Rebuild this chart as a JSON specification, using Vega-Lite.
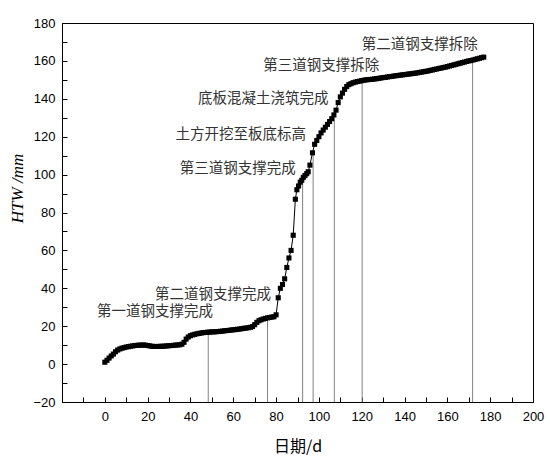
{
  "$schema": "https://vega.github.io/schema/vega-lite/v6.json",
  "width": 471,
  "height": 379,
  "autosize": "none",
  "padding": {"left": 62, "top": 23, "right": 17, "bottom": 60},
  "background": "white",
  "config": {
    "view": {"stroke": "black", "strokeWidth": 1},
    "axis": {"grid": false, "domainColor": "black", "tickColor": "black", "labelColor": "black", "labelFont": "Liberation Sans", "labelFontSize": 13, "titleColor": "black", "titleFontWeight": "normal"}
  },
  "datasets": {
    "series": [
      {"day": 0, "h": 1.0}, {"day": 1, "h": 2.0}, {"day": 2, "h": 3.2}, {"day": 3, "h": 4.3}, {"day": 4, "h": 5.3},
      {"day": 5, "h": 6.5}, {"day": 6, "h": 7.4}, {"day": 7, "h": 8.0}, {"day": 8, "h": 8.4}, {"day": 9, "h": 8.7},
      {"day": 10, "h": 9.0}, {"day": 11, "h": 9.2}, {"day": 12, "h": 9.4}, {"day": 13, "h": 9.6}, {"day": 14, "h": 9.8},
      {"day": 15, "h": 9.9}, {"day": 16, "h": 10.0}, {"day": 17, "h": 10.0}, {"day": 18, "h": 10.1}, {"day": 19, "h": 10.0},
      {"day": 20, "h": 9.8}, {"day": 21, "h": 9.6}, {"day": 22, "h": 9.4}, {"day": 23, "h": 9.3}, {"day": 24, "h": 9.3},
      {"day": 25, "h": 9.3}, {"day": 26, "h": 9.4}, {"day": 27, "h": 9.4}, {"day": 28, "h": 9.5}, {"day": 29, "h": 9.6},
      {"day": 30, "h": 9.7}, {"day": 31, "h": 9.8}, {"day": 32, "h": 9.9}, {"day": 33, "h": 10.0}, {"day": 34, "h": 10.1},
      {"day": 35, "h": 10.2}, {"day": 36, "h": 10.5}, {"day": 37, "h": 11.5}, {"day": 38, "h": 13.2}, {"day": 39, "h": 14.3},
      {"day": 40, "h": 15.0}, {"day": 41, "h": 15.4}, {"day": 42, "h": 15.7}, {"day": 43, "h": 16.0}, {"day": 44, "h": 16.2},
      {"day": 45, "h": 16.4}, {"day": 46, "h": 16.6}, {"day": 47, "h": 16.7}, {"day": 48, "h": 16.8}, {"day": 49, "h": 16.9},
      {"day": 50, "h": 17.0}, {"day": 51, "h": 17.0}, {"day": 52, "h": 17.1}, {"day": 53, "h": 17.2}, {"day": 54, "h": 17.3},
      {"day": 55, "h": 17.4}, {"day": 56, "h": 17.6}, {"day": 57, "h": 17.7}, {"day": 58, "h": 17.8}, {"day": 59, "h": 18.0},
      {"day": 60, "h": 18.1}, {"day": 61, "h": 18.2}, {"day": 62, "h": 18.4}, {"day": 63, "h": 18.5}, {"day": 64, "h": 18.7},
      {"day": 65, "h": 18.9}, {"day": 66, "h": 19.0}, {"day": 67, "h": 19.2}, {"day": 68, "h": 19.4}, {"day": 69, "h": 19.8},
      {"day": 70, "h": 20.8}, {"day": 71, "h": 22.0}, {"day": 72, "h": 22.9}, {"day": 73, "h": 23.4}, {"day": 74, "h": 23.8},
      {"day": 75, "h": 24.1}, {"day": 76, "h": 24.4}, {"day": 77, "h": 24.6}, {"day": 78, "h": 24.8}, {"day": 79, "h": 25.0},
      {"day": 80, "h": 26.0}, {"day": 81, "h": 35.0}, {"day": 82, "h": 40.0}, {"day": 83, "h": 42.0}, {"day": 84, "h": 45.0},
      {"day": 85, "h": 51.0}, {"day": 86, "h": 56.0}, {"day": 87, "h": 60.0}, {"day": 88, "h": 68.0}, {"day": 89, "h": 87.0},
      {"day": 89.7, "h": 92.0}, {"day": 90.5, "h": 94.0}, {"day": 91.3, "h": 96.0}, {"day": 92, "h": 97.0}, {"day": 92.7, "h": 98.5},
      {"day": 93.5, "h": 99.5}, {"day": 94.3, "h": 100.5}, {"day": 95, "h": 101.5}, {"day": 95.8, "h": 105.0}, {"day": 97, "h": 111.5},
      {"day": 98, "h": 116.0}, {"day": 99, "h": 118.0}, {"day": 100, "h": 120.0}, {"day": 101, "h": 122.0}, {"day": 102, "h": 123.5},
      {"day": 103, "h": 125.0}, {"day": 104, "h": 126.5}, {"day": 105, "h": 128.0}, {"day": 106, "h": 129.5}, {"day": 107, "h": 131.5},
      {"day": 108, "h": 134.0}, {"day": 109, "h": 138.0}, {"day": 110, "h": 141.0}, {"day": 111, "h": 143.0}, {"day": 112, "h": 145.0},
      {"day": 113, "h": 146.5}, {"day": 114, "h": 147.5}, {"day": 115, "h": 148.0}, {"day": 116, "h": 148.5}, {"day": 117, "h": 148.8},
      {"day": 118, "h": 149.1}, {"day": 119, "h": 149.3}, {"day": 120, "h": 149.6}, {"day": 121, "h": 149.8}, {"day": 122, "h": 150.0},
      {"day": 123, "h": 150.1}, {"day": 124, "h": 150.2}, {"day": 125, "h": 150.3}, {"day": 126, "h": 150.5}, {"day": 127, "h": 150.6},
      {"day": 128, "h": 150.8}, {"day": 129, "h": 151.0}, {"day": 130, "h": 151.2}, {"day": 131, "h": 151.3}, {"day": 132, "h": 151.5},
      {"day": 133, "h": 151.7}, {"day": 134, "h": 151.8}, {"day": 135, "h": 152.0}, {"day": 136, "h": 152.2}, {"day": 137, "h": 152.3},
      {"day": 138, "h": 152.5}, {"day": 139, "h": 152.6}, {"day": 140, "h": 152.8}, {"day": 141, "h": 152.9}, {"day": 142, "h": 153.1},
      {"day": 143, "h": 153.2}, {"day": 144, "h": 153.4}, {"day": 145, "h": 153.5}, {"day": 146, "h": 153.7}, {"day": 147, "h": 153.9},
      {"day": 148, "h": 154.1}, {"day": 149, "h": 154.3}, {"day": 150, "h": 154.5}, {"day": 151, "h": 154.7}, {"day": 152, "h": 155.0},
      {"day": 153, "h": 155.2}, {"day": 154, "h": 155.5}, {"day": 155, "h": 155.7}, {"day": 156, "h": 156.0}, {"day": 157, "h": 156.2},
      {"day": 158, "h": 156.5}, {"day": 159, "h": 156.7}, {"day": 160, "h": 157.0}, {"day": 161, "h": 157.3}, {"day": 162, "h": 157.6},
      {"day": 163, "h": 157.9}, {"day": 164, "h": 158.2}, {"day": 165, "h": 158.5}, {"day": 166, "h": 158.8}, {"day": 167, "h": 159.1},
      {"day": 168, "h": 159.4}, {"day": 169, "h": 159.7}, {"day": 170, "h": 160.0}, {"day": 171, "h": 160.2}, {"day": 172, "h": 160.5},
      {"day": 173, "h": 160.8}, {"day": 174, "h": 161.1}, {"day": 175, "h": 161.4}, {"day": 176, "h": 161.7}, {"day": 177, "h": 162.0}
    ],
    "events": [
      {"day": 48.3, "h": 16.8},
      {"day": 76, "h": 24.4},
      {"day": 92.4, "h": 97.5},
      {"day": 97.3, "h": 113},
      {"day": 107.2, "h": 131.8},
      {"day": 120.2, "h": 149.6},
      {"day": 171.8, "h": 160.4}
    ],
    "notes": [
      {"day": -3.7, "h": 27.3, "label": "第一道钢支撑完成"},
      {"day": 23.4, "h": 36.4, "label": "第二道钢支撑完成"},
      {"day": 35, "h": 103, "label": "第三道钢支撑完成"},
      {"day": 33, "h": 121, "label": "土方开挖至板底标高"},
      {"day": 43.5, "h": 140, "label": "底板混凝土浇筑完成"},
      {"day": 74, "h": 157.3, "label": "第三道钢支撑拆除"},
      {"day": 120, "h": 168.4, "label": "第二道钢支撑拆除"}
    ]
  },
  "encoding": {
    "x": {
      "field": "day", "type": "quantitative",
      "scale": {"domain": [-20, 200], "nice": false, "zero": false},
      "axis": {
        "title": "日期/d",
        "titleFont": "Noto Sans CJK SC",
        "titleFontSize": 16,
        "titlePadding": 15,
        "values": [-20, -10, 0, 10, 20, 30, 40, 50, 60, 70, 80, 90, 100, 110, 120, 130, 140, 150, 160, 170, 180, 190, 200],
        "labelExpr": "datum.value >= 0 && datum.value % 20 === 0 ? datum.label : ''",
        "tickSize": -5,
        "labelPadding": 13,
        "labelFlush": false
      }
    },
    "y": {
      "field": "h", "type": "quantitative",
      "scale": {"domain": [-20, 180], "nice": false, "zero": false},
      "axis": {
        "title": "HTW /mm",
        "titleFont": "Liberation Serif",
        "titleFontStyle": "italic",
        "titleFontSize": 17,
        "titlePadding": 6,
        "titleY": 165,
        "values": [-20, -10, 0, 10, 20, 30, 40, 50, 60, 70, 80, 90, 100, 110, 120, 130, 140, 150, 160, 170, 180],
        "labelExpr": "datum.value % 20 === 0 ? datum.label : ''",
        "tickSize": -5,
        "labelPadding": 12,
        "labelFlush": false
      }
    }
  },
  "layer": [
    {
      "data": {"name": "events"},
      "mark": {"type": "rule", "color": "#808080", "strokeWidth": 1},
      "encoding": {"y2": {"datum": -20}}
    },
    {
      "data": {"name": "series"},
      "mark": {"type": "line", "color": "black", "strokeWidth": 1}
    },
    {
      "data": {"name": "series"},
      "mark": {"type": "square", "color": "black", "filled": true, "size": 26, "opacity": 1}
    },
    {
      "data": {"name": "notes"},
      "mark": {"type": "text", "align": "left", "baseline": "middle", "font": "Noto Sans CJK SC", "fontSize": 14.5, "color": "#333333"},
      "encoding": {"text": {"field": "label"}}
    }
  ]
}
